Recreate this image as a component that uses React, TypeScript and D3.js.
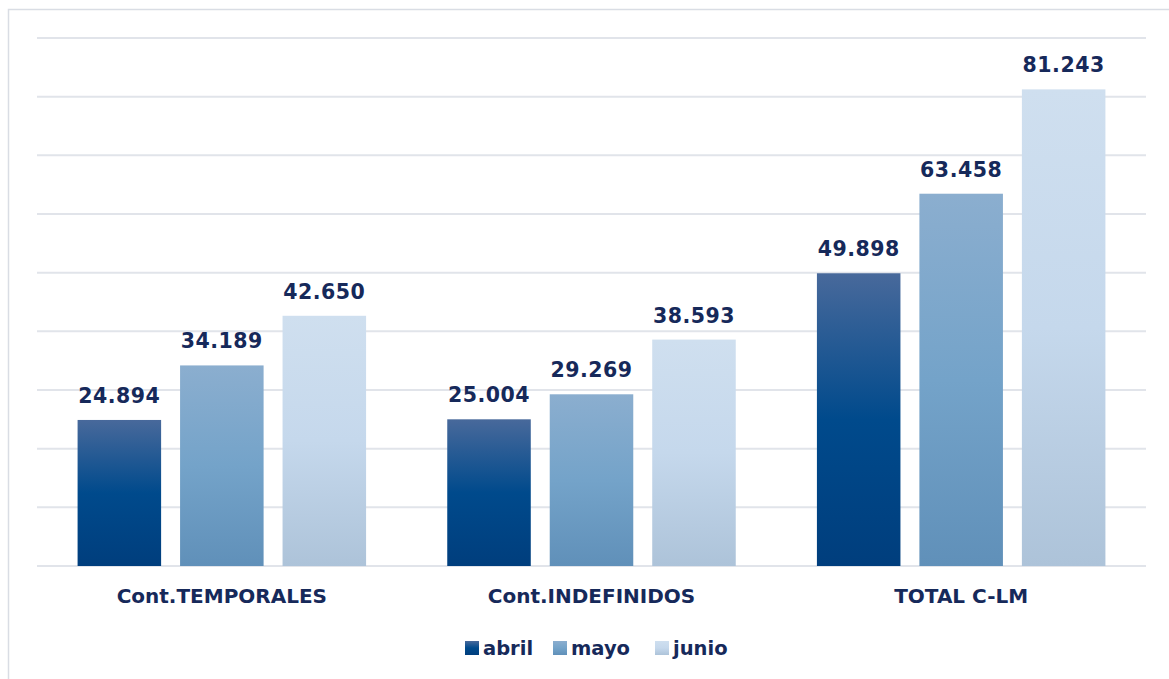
import React, { useEffect, useRef } from 'react';
import * as d3 from 'd3';

const categories = ['Cont.TEMPORALES', 'Cont.INDEFINIDOS', 'TOTAL C-LM'];
const seriesNames = ['abril', 'mayo', 'junio'];
const abril = [24894, 25004, 49898];
const mayo = [34189, 29269, 63458];
const junio = [42650, 38593, 81243];
const yTicks = [0, 10000, 20000, 30000, 40000, 50000, 60000, 70000, 80000, 90000];

const gradients = [
  { id: 'g-abril', stops: [['0%', '#48699b'], ['50%', '#004a8c'], ['100%', '#003e7d']] },
  { id: 'g-mayo', stops: [['0%', '#8baecf'], ['50%', '#74a3c9'], ['100%', '#6090b9']] },
  { id: 'g-junio', stops: [['0%', '#cfdfef'], ['50%', '#c5d8ec'], ['100%', '#adc3d9']] },
];

const fmt = (v: number) => d3.format(',')(v).replace(/,/g, '.');

const App = () => {
  const svgRef = useRef<SVGSVGElement>(null);

  useEffect(() => {
    const svg = d3.select(svgRef.current);
    svg.selectAll('*').remove();

    const width = 1169;
    const height = 679;
    const margin = { top: 38, right: 23, bottom: 113, left: 37 };
    const innerW = width - margin.left - margin.right;
    const innerH = height - margin.top - margin.bottom;
    const textColor = '#16295a';
    const font = '"DejaVu Sans", Verdana, sans-serif';

    const defs = svg.append('defs');
    gradients.forEach(gr => {
      const lg = defs.append('linearGradient').attr('id', gr.id)
        .attr('x1', 0).attr('y1', 0).attr('x2', 0).attr('y2', 1);
      gr.stops.forEach(([o, c]) => lg.append('stop').attr('offset', o).attr('stop-color', c));
    });

    svg.append('rect').attr('x', 8.5).attr('y', 9.5)
      .attr('width', 1200).attr('height', 700)
      .attr('fill', '#fff').attr('stroke', '#d9dde4').attr('stroke-width', 1.5);

    const g = svg.append('g').attr('transform', `translate(${margin.left},${margin.top})`);

    const x0 = d3.scaleBand().domain(categories).range([0, innerW]).paddingInner(0).paddingOuter(0);
    const x1 = d3.scaleBand().domain(seriesNames).range([0, x0.bandwidth()])
      .paddingInner(0.185).paddingOuter(0.396);
    const y = d3.scaleLinear().domain([0, 90000]).range([innerH, 0]);

    g.selectAll('line.grid').data(yTicks).enter().append('line')
      .attr('x1', 0).attr('x2', innerW)
      .attr('y1', d => y(d)).attr('y2', d => y(d))
      .attr('stroke', '#e1e4ea').attr('stroke-width', 2);

    const seriesValues = [abril, mayo, junio];
    seriesNames.forEach((s, si) => {
      const vals = seriesValues[si];
      categories.forEach((c, ci) => {
        const bx = x0(c)! + x1(s)!;
        const v = vals[ci];
        g.append('rect')
          .attr('x', bx).attr('y', y(v))
          .attr('width', x1.bandwidth()).attr('height', y(0) - y(v))
          .attr('fill', `url(#${gradients[si].id})`);
        g.append('text')
          .attr('x', bx + x1.bandwidth() / 2).attr('y', y(v) - 17)
          .attr('text-anchor', 'middle')
          .style('font-family', font).style('font-weight', 'bold').style('font-size', '20.5px')
          .style('letter-spacing', '0.5px')
          .attr('fill', textColor).text(fmt(v));
      });
    });

    g.selectAll('text.cat').data(categories).enter().append('text')
      .attr('x', d => x0(d)! + x0.bandwidth() / 2).attr('y', innerH + 37)
      .attr('text-anchor', 'middle')
      .style('font-family', font).style('font-weight', 'bold').style('font-size', '20px')
      .attr('fill', textColor).text(d => d);

    // legend
    const legend = svg.append('g').attr('transform', `translate(465,641)`);
    const offsets = [0, 88, 190];
    seriesNames.forEach((s, i) => {
      legend.append('rect').attr('x', offsets[i]).attr('y', 0)
        .attr('width', 14).attr('height', 14)
        .attr('fill', `url(#${gradients[i].id})`);
      legend.append('text').attr('x', offsets[i] + 18).attr('y', 14)
        .style('font-family', font).style('font-weight', 'bold').style('font-size', '19.5px')
        .attr('fill', textColor).text(s);
    });
  }, []);

  return (
    <svg ref={svgRef} width={1169} height={679}
      style={{ position: 'absolute', left: 0, top: 0, display: 'block' }} />
  );
};

export default App;
